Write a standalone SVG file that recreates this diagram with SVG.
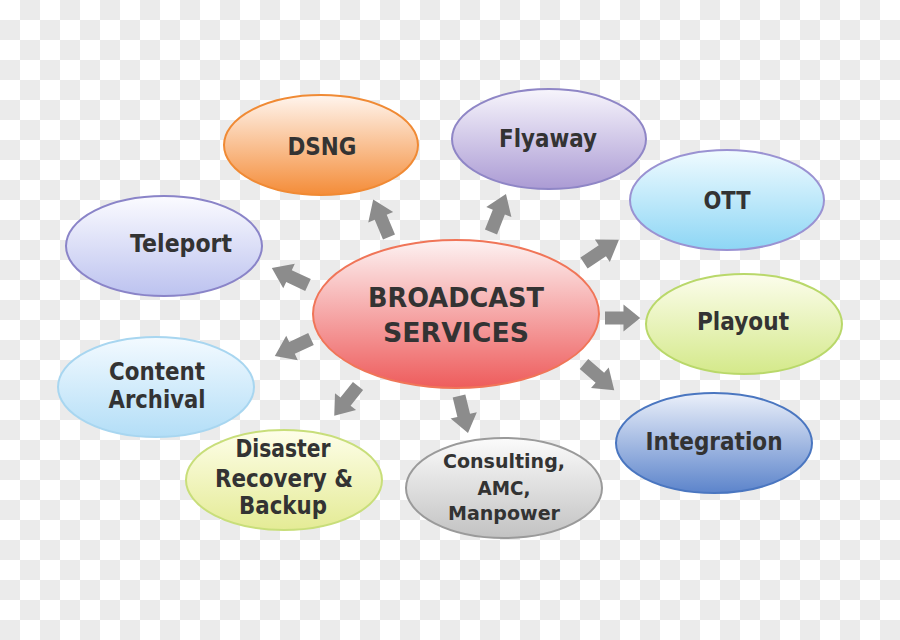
<svg xmlns="http://www.w3.org/2000/svg" xmlns:xlink="http://www.w3.org/1999/xlink" width="900" height="640" viewBox="0 0 900 640">
<defs>
<pattern id="checker" x="0" y="0" width="40" height="40" patternUnits="userSpaceOnUse">
<rect width="40" height="40" fill="#ffffff"/>
<rect x="20" y="0" width="20" height="20" fill="#ebebeb"/>
<rect x="0" y="20" width="20" height="20" fill="#ebebeb"/>
</pattern>
<linearGradient id="gCenter" x1="0" y1="0" x2="0" y2="1"><stop offset="0" stop-color="#fdf2f2"/><stop offset="1" stop-color="#ee5c5c"/></linearGradient>
<linearGradient id="gDsng" x1="0" y1="0" x2="0" y2="1"><stop offset="0" stop-color="#fff5ee"/><stop offset="1" stop-color="#f48c38"/></linearGradient>
<linearGradient id="gFly" x1="0" y1="0" x2="0" y2="1"><stop offset="0" stop-color="#f7f5fc"/><stop offset="1" stop-color="#ab9bd4"/></linearGradient>
<linearGradient id="gOtt" x1="0" y1="0" x2="0" y2="1"><stop offset="0" stop-color="#f0fbff"/><stop offset="1" stop-color="#8dd6f5"/></linearGradient>
<linearGradient id="gTel" x1="0" y1="0" x2="0" y2="1"><stop offset="0" stop-color="#fbfbff"/><stop offset="1" stop-color="#bcc2ef"/></linearGradient>
<linearGradient id="gPlay" x1="0" y1="0" x2="0" y2="1"><stop offset="0" stop-color="#fcfdec"/><stop offset="1" stop-color="#d4e98a"/></linearGradient>
<linearGradient id="gCont" x1="0" y1="0" x2="0" y2="1"><stop offset="0" stop-color="#f3faff"/><stop offset="1" stop-color="#b3def7"/></linearGradient>
<linearGradient id="gDis" x1="0" y1="0" x2="0" y2="1"><stop offset="0" stop-color="#fefee9"/><stop offset="1" stop-color="#e4eb95"/></linearGradient>
<linearGradient id="gCons" x1="0" y1="0" x2="0" y2="1"><stop offset="0" stop-color="#fbfbfb"/><stop offset="1" stop-color="#c2c2c2"/></linearGradient>
<linearGradient id="gInt" x1="0" y1="0" x2="0" y2="1"><stop offset="0" stop-color="#ebf0fa"/><stop offset="1" stop-color="#5c84cb"/></linearGradient>
<polygon id="arrow" points="0,-6.5 21,-6.5 21,-13.5 40,0 21,13.5 21,6.5 0,6.5"/>
<style>
.node ellipse { stroke-width: 2; }
.lbl { font-family: "DejaVu Sans", "Liberation Sans", sans-serif; font-weight: bold; fill: #333333; text-anchor: middle; font-size: 24.5px; }
.big { font-size: 27px; }
.small { font-size: 19.5px; }
.arr { fill: #8c8c8c; }
</style>
</defs>
<rect width="900" height="640" fill="url(#checker)"/>

<g id="connectors">
<use xlink:href="#arrow" class="arr" transform="translate(389,237) rotate(-112.8) scale(1.02,1)"/>
<use xlink:href="#arrow" class="arr" transform="translate(491,232) rotate(-68.5) scale(1.02,1)"/>
<use xlink:href="#arrow" class="arr" transform="translate(584,263) rotate(-33.7) scale(1.05,1)"/>
<use xlink:href="#arrow" class="arr" transform="translate(605,318) rotate(0) scale(0.88,1)"/>
<use xlink:href="#arrow" class="arr" transform="translate(584,364) rotate(40.9)"/>
<use xlink:href="#arrow" class="arr" transform="translate(459,396) rotate(76.3) scale(0.95,1)"/>
<use xlink:href="#arrow" class="arr" transform="translate(358,386) rotate(128.7) scale(0.95,1)"/>
<use xlink:href="#arrow" class="arr" transform="translate(311,339) rotate(154.7)"/>
<use xlink:href="#arrow" class="arr" transform="translate(308,285) rotate(-154.7)"/>
</g>

<g id="center" class="node">
<ellipse cx="456" cy="314" rx="143" ry="74" fill="url(#gCenter)" stroke="#f07558"/>
<text class="lbl big" x="456" y="307" textLength="176" lengthAdjust="spacingAndGlyphs">BROADCAST</text>
<text class="lbl big" x="456" y="342" textLength="146" lengthAdjust="spacingAndGlyphs">SERVICES</text>
</g>

<g id="dsng" class="node">
<ellipse cx="321" cy="145" rx="97" ry="50" fill="url(#gDsng)" stroke="#f08a34"/>
<text class="lbl" x="322" y="155" textLength="69" lengthAdjust="spacingAndGlyphs">DSNG</text>
</g>

<g id="flyaway" class="node">
<ellipse cx="549" cy="139" rx="97" ry="50" fill="url(#gFly)" stroke="#8f86c6"/>
<text class="lbl" x="548" y="147" textLength="98" lengthAdjust="spacingAndGlyphs">Flyaway</text>
</g>

<g id="ott" class="node">
<ellipse cx="727" cy="200" rx="97" ry="50" fill="url(#gOtt)" stroke="#9a92d2"/>
<text class="lbl" x="727" y="209" textLength="47" lengthAdjust="spacingAndGlyphs">OTT</text>
</g>

<g id="teleport" class="node">
<ellipse cx="164" cy="246" rx="98" ry="50" fill="url(#gTel)" stroke="#8a84c8"/>
<text class="lbl" x="181" y="252" textLength="102" lengthAdjust="spacingAndGlyphs">Teleport</text>
</g>

<g id="playout" class="node">
<ellipse cx="744" cy="324" rx="98" ry="50" fill="url(#gPlay)" stroke="#b9d86a"/>
<text class="lbl" x="743" y="330" textLength="92" lengthAdjust="spacingAndGlyphs">Playout</text>
</g>

<g id="content" class="node">
<ellipse cx="156" cy="387" rx="98" ry="50" fill="url(#gCont)" stroke="#a8d6f0"/>
<text class="lbl" x="157" y="380" textLength="96" lengthAdjust="spacingAndGlyphs">Content</text>
<text class="lbl" x="157" y="408" textLength="97" lengthAdjust="spacingAndGlyphs">Archival</text>
</g>

<g id="disaster" class="node">
<ellipse cx="284" cy="480" rx="98" ry="50" fill="url(#gDis)" stroke="#c8de7a"/>
<text class="lbl" x="283" y="457" textLength="95" lengthAdjust="spacingAndGlyphs">Disaster</text>
<text class="lbl" x="284" y="487" textLength="138" lengthAdjust="spacingAndGlyphs">Recovery &amp;</text>
<text class="lbl" x="283" y="514" textLength="88" lengthAdjust="spacingAndGlyphs">Backup</text>
</g>

<g id="consulting" class="node">
<ellipse cx="504" cy="488" rx="98" ry="50" fill="url(#gCons)" stroke="#9a9a9a"/>
<text class="lbl small" x="504" y="468" textLength="122" lengthAdjust="spacingAndGlyphs">Consulting,</text>
<text class="lbl small" x="504" y="495" textLength="53" lengthAdjust="spacingAndGlyphs">AMC,</text>
<text class="lbl small" x="504" y="520" textLength="112" lengthAdjust="spacingAndGlyphs">Manpower</text>
</g>

<g id="integration" class="node">
<ellipse cx="714" cy="443" rx="98" ry="50" fill="url(#gInt)" stroke="#4a76c0"/>
<text class="lbl" x="714" y="450" textLength="137" lengthAdjust="spacingAndGlyphs">Integration</text>
</g>
</svg>
